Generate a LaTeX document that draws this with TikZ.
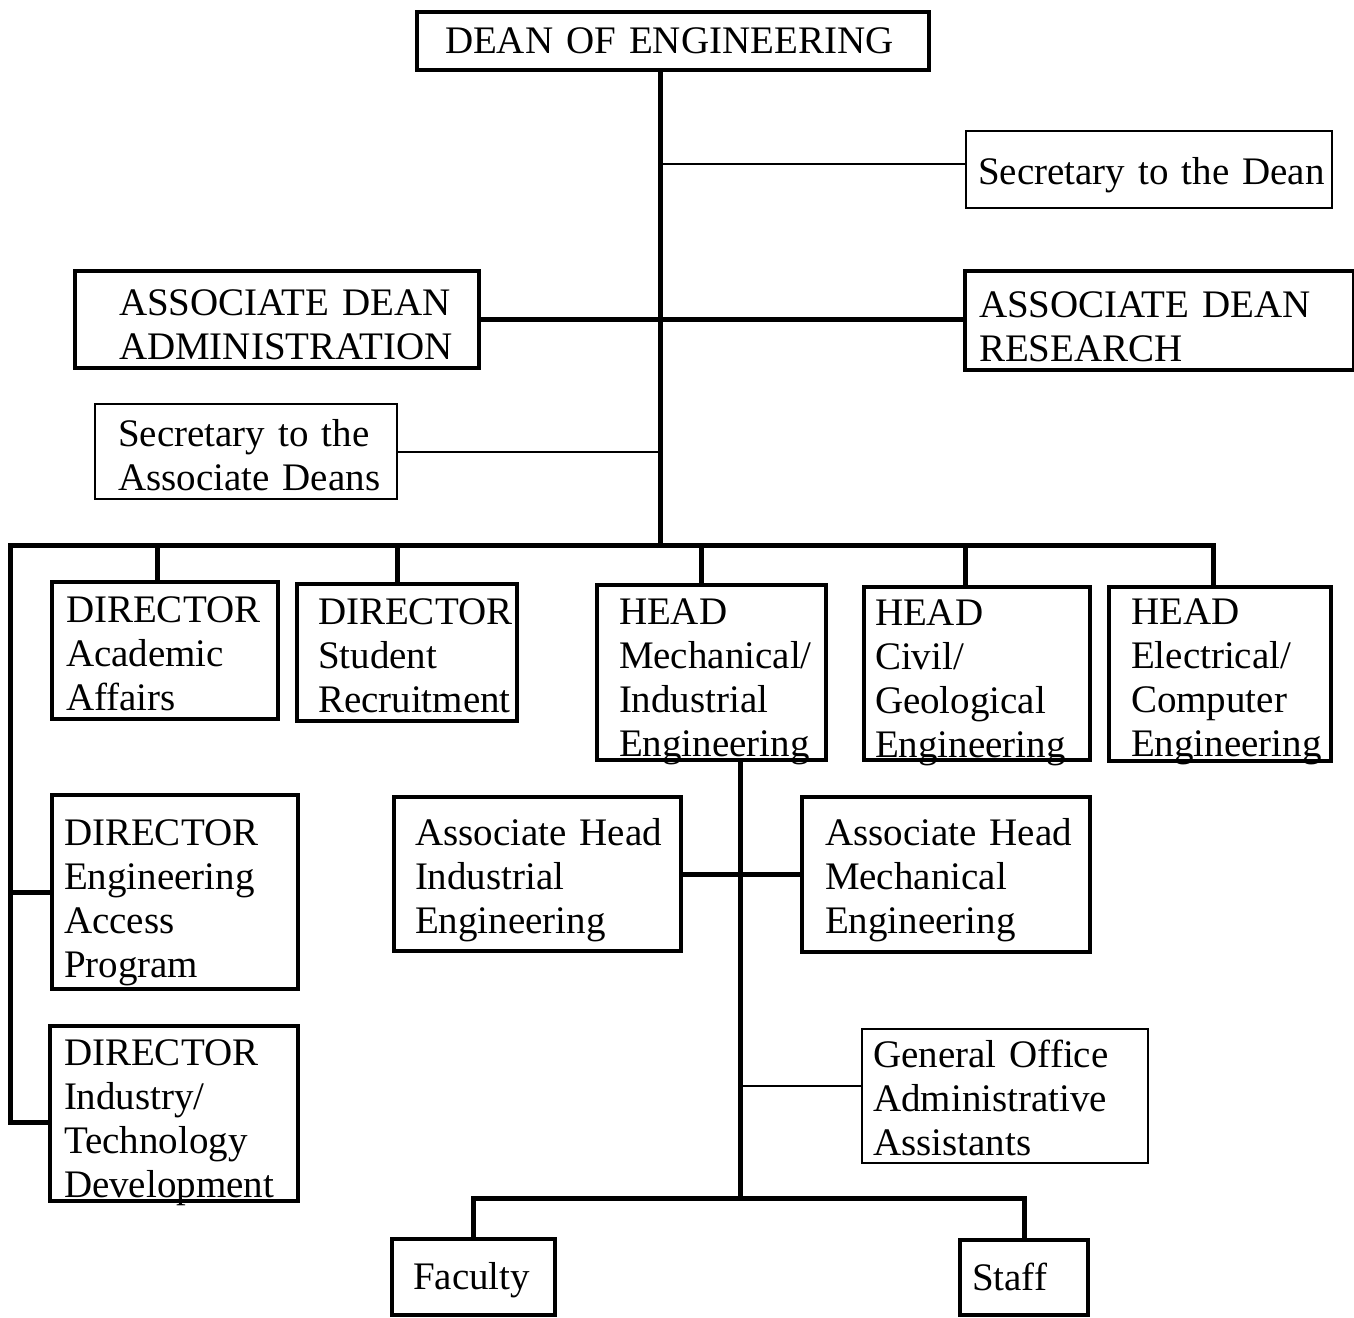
\documentclass[tikz,border=0pt]{standalone}
\usepackage{fontspec}
\setmainfont{Liberation Serif}
\usetikzlibrary{positioning, calc}
\hyphenpenalty=10000

% box size: width, height, left margin, first baseline (all in px)
\tikzset{box-dim/.style n args={4}{minimum width=#1*0.5pt, inner xsep=#3*0.5pt,
    text width={(#1-2*#3)*0.5pt}, text height=#4*0.5pt, text depth={(#2-#4)*0.5pt}}}

\begin{document}
\begin{tikzpicture}[x=0.5pt, y=-0.5pt, draw=black!100]
	\tikzstyle{org-box}=[draw, anchor=north west, align=left, inner ysep=0pt, line width=2pt, font=\fontsize{19.5pt}{22pt}\selectfont]
	\tikzstyle{thin-box}=[org-box, line width=1.2pt]
	\tikzstyle{link}=[line width=2.5pt]
	\tikzstyle{thin-link}=[line width=1.2pt]
	\useasboundingbox (0,0) rectangle (1354,1317);

	% dean's office
	\node[org-box, box-dim={512}{58}{28}{42}] (dean) at (415,10) {DEAN~OF~ENGINEERING};
	\node[thin-box, box-dim={366}{77}{12}{53}] (sec-dean) at (965,130) {Secretary~to~the~Dean};
	\node[org-box, box-dim={404}{97}{44}{44}] (ad-admin) at (73,269) {ASSOCIATE~DEAN\\ADMINISTRATION};
	\node[org-box, box-dim={389}{99}{14}{46}] (ad-research) at (963,269) {ASSOCIATE~DEAN\\RESEARCH};
	\node[thin-box, box-dim={302}{95}{23}{42}] (sec-ad) at (94,403) {Secretary~to~the\\Associate~Deans};

	% directors and department heads
	\node[org-box, box-dim={226}{137}{14}{40}] (dir-acad) at (50,580) {DIRECTOR\\Academic\\Affairs};
	\node[org-box, box-dim={220}{137}{21}{40}] (dir-student) at (295,582) {DIRECTOR\\Student\\Recruitment};
	\node[org-box, box-dim={229}{175}{22}{39}] (head-mech) at (595,583) {HEAD\\Mechanical/\\Industrial\\Engineering};
	\node[org-box, box-dim={226}{173}{11}{38}] (head-civil) at (862,585) {HEAD\\Civil/\\Geological\\Engineering};
	\node[org-box, box-dim={222}{174}{22}{37}] (head-elec) at (1107,585) {HEAD\\Electrical/\\Computer\\Engineering};
	\node[org-box, box-dim={246}{194}{12}{50}] (dir-access) at (50,793) {DIRECTOR\\Engineering\\Access\\Program};
	\node[org-box, box-dim={248}{175}{14}{39}] (dir-industry) at (48,1024) {DIRECTOR\\Industry/\\Technology\\Development};

	% mechanical/industrial department
	\node[org-box, box-dim={287}{154}{21}{48}] (ah-ind) at (392,795) {Associate~Head\\Industrial\\Engineering};
	\node[org-box, box-dim={288}{155}{23}{48}] (ah-mech) at (800,795) {Associate~Head\\Mechanical\\Engineering};
	\node[thin-box, box-dim={286}{134}{11}{38}] (gen-office) at (861,1028) {General~Office\\Administrative\\Assistants};
	\node[org-box, box-dim={163}{76}{21}{50}] (faculty) at (390,1237) {Faculty};
	\node[org-box, box-dim={128}{75}{12}{50}] (staff) at (958,1238) {Staff};

	\coordinate (hub) at (660,545);
	\coordinate (bus-left) at (10,545);
	\coordinate (mech-hub) at (740,1198);
	\coordinate (ind-joint) at ([yshift=-4.5pt]dir-industry.west);

	% upper tree
	\draw[link] (dean.south -| hub) -- (hub);
	\draw[thin-link] ([yshift=3pt]sec-dean.west) -- ([yshift=3pt]sec-dean.west -| hub);
	\draw[link] (ad-admin.east) -- (ad-admin.east -| ad-research.west);
	\draw[thin-link] (sec-ad.east) -- (sec-ad.east -| hub);
	\draw[link] ([xshift=-3.5pt]head-elec.north) |- (bus-left) |- (ind-joint);
	\draw[link] (dir-access.west) -- (dir-access.west -| bus-left);
	\foreach \n/\dx in {dir-acad/-8, dir-student/-10, head-mech/-10, head-civil/-12}
		\draw[link] ([xshift=\dx*0.5pt]\n.north) -- ([xshift=\dx*0.5pt]\n.north |- hub);

	% lower tree
	\draw[link] (head-mech.south -| mech-hub) -- (mech-hub);
	\draw[link] (ah-ind.east) -- (ah-ind.east -| ah-mech.west);
	\draw[thin-link] ([yshift=5pt]gen-office.west) -- ([yshift=5pt]gen-office.west -| mech-hub);
	\draw[link] (faculty.north) |- (mech-hub) -| (staff.north);
\end{tikzpicture}
\end{document}
